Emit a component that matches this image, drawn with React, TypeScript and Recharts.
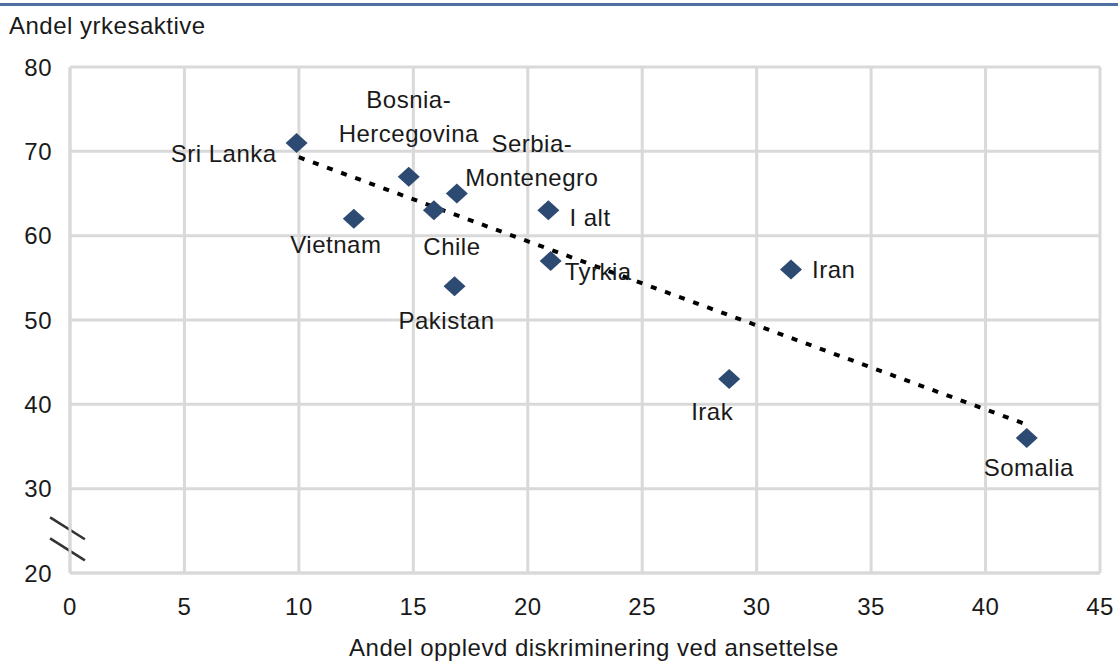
import { ScatterChart, Scatter, XAxis, YAxis, CartesianGrid, ReferenceLine } from 'recharts';

// punktverdier lest av figuren
const countries = ['Sri Lanka', 'Bosnia-\nHercegovina', 'Vietnam', 'Chile', 'Serbia-\nMontenegro', 'Pakistan', 'I alt', 'Tyrkia', 'Iran', 'Irak', 'Somalia'];
const discrimination = [9.9, 14.8, 12.4, 15.9, 16.9, 16.8, 20.9, 21.0, 31.5, 28.8, 41.8];
const employed = [71, 67, 62, 63, 65, 54, 63, 57, 56, 43, 36];

// trendlinje (endepunkter)
const trendX = [10, 41.7];
const trendY = [69.3, 37.7];

const xTicks = [0, 5, 10, 15, 20, 25, 30, 35, 40, 45];
const yTicks = [20, 30, 40, 50, 60, 70, 80];

// plassering av etiketter i forhold til punktet
const labelPlacement: Record<string, { dx: number; dy: number; anchor: 'start' | 'middle' | 'end' }> = {
    'Sri Lanka': { dx: -20, dy: 11, anchor: 'end' },
    'Bosnia-\nHercegovina': { dx: 0, dy: -77, anchor: 'middle' },
    'Vietnam': { dx: -18, dy: 26, anchor: 'middle' },
    'Chile': { dx: 18, dy: 36, anchor: 'middle' },
    'Serbia-\nMontenegro': { dx: 75, dy: -50, anchor: 'middle' },
    'Pakistan': { dx: -8, dy: 34, anchor: 'middle' },
    'I alt': { dx: 21, dy: 7, anchor: 'start' },
    'Tyrkia': { dx: 14, dy: 11, anchor: 'start' },
    'Iran': { dx: 21, dy: 0, anchor: 'start' },
    'Irak': { dx: -17, dy: 32, anchor: 'middle' },
    'Somalia': { dx: 2, dy: 29, anchor: 'middle' },
};

const points = countries.map((name, i) => ({ name, x: discrimination[i], y: employed[i] }));
const trend = trendX.map((x, i) => ({ x, y: trendY[i] }));

const FONT = '"Liberation Sans", Arial, sans-serif';
const FS = 24;
const LS = 0.5;

function CountryPoint(props: any) {
    const { cx, cy, payload } = props;
    if (cx == null || cy == null) return null;
    const p = labelPlacement[payload.name];
    const lines = String(payload.name).split('\n');
    return (
        <g>
            <polygon
                points={`${cx},${cy - 10} ${cx + 11},${cy} ${cx},${cy + 10} ${cx - 11},${cy}`}
                fill="#2d4a72"
            />
            {lines.map((l, k) => (
                <text
                    key={k}
                    x={cx + p.dx}
                    y={cy + p.dy + k * 34}
                    textAnchor={p.anchor}
                    dominantBaseline="central"
                    fontFamily={FONT}
                    fontSize={FS}
                    letterSpacing={LS}
                    fill="#1a1a1a"
                >
                    {l}
                </text>
            ))}
        </g>
    );
}

export default function App() {
    const tickStyle = { fill: '#1a1a1a', fontSize: FS, fontFamily: FONT, letterSpacing: LS };
    return (
        <div style={{ position: 'absolute', left: 0, top: 0, width: 1118, height: 663, overflow: 'hidden', background: '#fff', fontFamily: FONT }}>
            <div style={{ position: 'absolute', left: 0, top: 3, width: 1118, height: 3, background: '#4f6f9f' }} />
            <div style={{ position: 'absolute', left: 9, top: 12, fontSize: FS, letterSpacing: LS, lineHeight: '28px', color: '#1a1a1a' }}>
                Andel yrkesaktive
            </div>
            <ScatterChart width={1118} height={663} margin={{ top: 67, right: 18, bottom: 40, left: 20 }}>
                <CartesianGrid stroke="#d9d9d9" strokeWidth={3} />
                <XAxis
                    type="number"
                    dataKey="x"
                    domain={[0, 45]}
                    ticks={xTicks}
                    interval={0}
                    height={50}
                    axisLine={{ stroke: '#d9d9d9', strokeWidth: 3 }}
                    tickLine={false}
                    tickSize={0}
                    tickMargin={25}
                    tick={tickStyle}
                    allowDataOverflow
                />
                <YAxis
                    type="number"
                    dataKey="y"
                    domain={[20, 80]}
                    ticks={yTicks}
                    interval={0}
                    width={50}
                    axisLine={{ stroke: '#d9d9d9', strokeWidth: 3 }}
                    tickLine={false}
                    tickSize={0}
                    tickMargin={18}
                    tick={tickStyle}
                    allowDataOverflow
                />
                <ReferenceLine
                    segment={[{ x: -0.87, y: 26.6 }, { x: 0.65, y: 24.0 }]}
                    stroke="#333"
                    strokeWidth={2.5}
                    ifOverflow="visible"
                />
                <ReferenceLine
                    segment={[{ x: -0.87, y: 24.1 }, { x: 0.65, y: 21.5 }]}
                    stroke="#333"
                    strokeWidth={2.5}
                    ifOverflow="visible"
                />
                <Scatter
                    data={trend}
                    line={{ stroke: '#000', strokeWidth: 4, strokeDasharray: '6 9' }}
                    lineType="joint"
                    shape={() => <g />}
                    isAnimationActive={false}
                />
                <Scatter data={points} shape={<CountryPoint />} isAnimationActive={false} />
            </ScatterChart>
            <div style={{ position: 'absolute', left: 0, width: 1188, top: 634, textAlign: 'center', fontSize: FS, letterSpacing: LS, lineHeight: '28px', color: '#1a1a1a' }}>
                Andel opplevd diskriminering ved ansettelse
            </div>
        </div>
    );
}
